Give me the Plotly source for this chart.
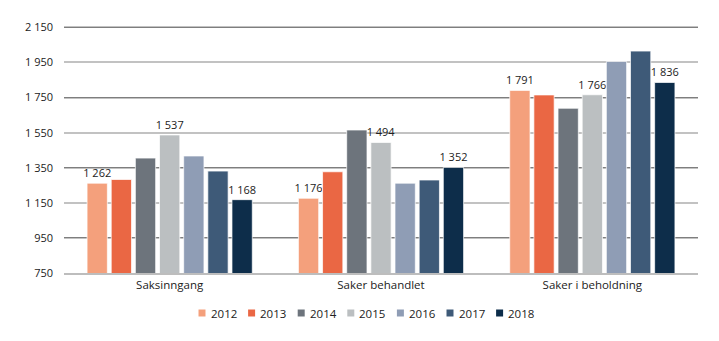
import plotly.graph_objects as go

categories = ["Saksinngang", "Saker behandlet", "Saker i beholdning"]
years = ["2012", "2013", "2014", "2015", "2016", "2017", "2018"]

values_2012 = [1262, 1176, 1791]
values_2013 = [1283, 1327, 1765]
values_2014 = [1405, 1565, 1689]
values_2015 = [1537, 1494, 1766]
values_2016 = [1417, 1262, 1956]
values_2017 = [1331, 1280, 2015]
values_2018 = [1168, 1352, 1836]

# which bars carry a value label (per category)
labelled_2012 = [True, True, True]
labelled_2013 = [False, False, False]
labelled_2014 = [False, False, False]
labelled_2015 = [True, True, True]
labelled_2016 = [False, False, False]
labelled_2017 = [False, False, False]
labelled_2018 = [True, True, True]

colors = ["#F4A07C", "#EA6744", "#6D747C", "#BBBFC1", "#8F9DB5", "#3E5A78", "#0D2D4A"]

tick_values = [750, 950, 1150, 1350, 1550, 1750, 1950, 2150]
# a little headroom so the top grid line is not clipped at the plot edge
y_range = [750, 2158]

W, H = 719, 341
M_L, M_R, M_T, M_B = 64, 21, 26, 68
PLOT_W = W - M_L - M_R
PLOT_H = H - M_T - M_B


def fmt(v):
    return f"{v:,}".replace(",", " ")


def px_to_paper_x(px):
    return (px - M_L) / PLOT_W


def px_to_paper_y(py):
    return (H - M_B - py) / PLOT_H


series = [values_2012, values_2013, values_2014, values_2015, values_2016, values_2017, values_2018]
flags = [labelled_2012, labelled_2013, labelled_2014, labelled_2015, labelled_2016, labelled_2017, labelled_2018]

fig = go.Figure()
for year, vals, show, col in zip(years, series, flags, colors):
    fig.add_trace(go.Bar(
        name=year,
        x=categories,
        y=vals,
        marker=dict(color=col, line=dict(color="rgba(255,255,255,0.7)", width=1)),
        text=[fmt(v) if s else "" for v, s in zip(vals, show)],
        textposition="outside",
        constraintext="none",
        cliponaxis=False,
        textfont=dict(size=11, color="#222222"),
        showlegend=False,
    ))

# second y axis carrying every other grid line in a darker grey
fig.add_trace(go.Scatter(x=[None], y=[None], yaxis="y2", showlegend=False, hoverinfo="skip"))

# compact legend row: small swatch + year label per series
legend_start, legend_step, swatch, legend_mid = 198.5, 49.6, 7, 313
shapes, annotations = [], []
for i, (year, col) in enumerate(zip(years, colors)):
    x0 = legend_start + i * legend_step
    shapes.append(dict(
        type="rect", xref="paper", yref="paper",
        x0=px_to_paper_x(x0), x1=px_to_paper_x(x0 + swatch),
        y0=px_to_paper_y(legend_mid + swatch / 2), y1=px_to_paper_y(legend_mid - swatch / 2),
        fillcolor=col, line=dict(width=0),
    ))
    annotations.append(dict(
        text=year, xref="paper", yref="paper",
        x=px_to_paper_x(x0 + swatch + 3), y=px_to_paper_y(legend_mid),
        xanchor="left", yanchor="middle", showarrow=False,
        font=dict(size=11.5, color="#222222"),
    ))

fig.update_layout(
    width=W,
    height=H,
    margin=dict(l=M_L, r=M_R, t=M_T, b=M_B),
    barmode="group",
    bargap=0.2,
    bargroupgap=0.16,
    plot_bgcolor="white",
    paper_bgcolor="white",
    font=dict(family="Open Sans", size=11, color="#222222"),
    showlegend=False,
    shapes=shapes,
    annotations=annotations,
    yaxis2=dict(
        overlaying="y",
        range=y_range,
        tickvals=tick_values[1::2],
        showticklabels=False,
        showgrid=True,
        gridcolor="#7E7E7E",
        gridwidth=1,
        zeroline=False,
        ticks="",
        automargin=False,
    ),
)

fig.layout.yaxis.update(
    range=y_range,
    tickvals=tick_values,
    ticktext=[fmt(v) for v in tick_values],
    showgrid=True,
    gridcolor="#C2C2C2",
    gridwidth=1.5,
    zeroline=False,
    ticks="",
    ticklabelstandoff=10,
    tickfont=dict(size=11),
    automargin=False,
)
fig.update_xaxes(
    showline=True,
    linecolor="#BDBDBD",
    linewidth=2,
    ticks="",
    tickfont=dict(size=11.5),
    automargin=False,
)

fig.write_html("out.html")
